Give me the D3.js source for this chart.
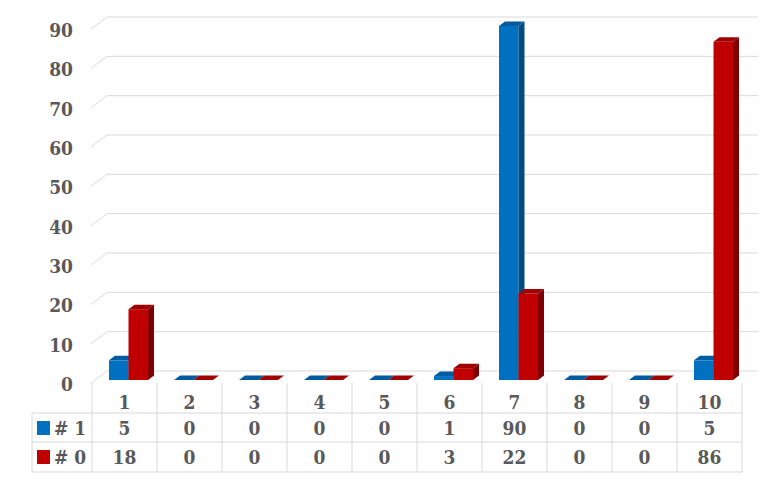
<!DOCTYPE html>
<html><head><meta charset="utf-8">
<script src="https://cdnjs.cloudflare.com/ajax/libs/d3/7.8.5/d3.min.js"></script>
<style>
html,body{margin:0;padding:0;background:#fff;}
svg{display:block;}
text{font-family:"DejaVu Serif Condensed","DejaVu Serif",serif;font-weight:bold;font-stretch:condensed;fill:#595959;}
</style></head>
<body>
<svg id="c" width="768" height="480"></svg>
<script>
const categories = ["1","2","3","4","5","6","7","8","9","10"];
const seriesNames = ["# 1","# 0"];
const series1 = [5,0,0,0,0,1,90,0,0,5];
const series0 = [18,0,0,0,0,3,22,0,0,86];
const yTicks = [0,10,20,30,40,50,60,70,80,90];
const seriesColors = [
  {front:"#0070C0", top:"#005C9E", side:"#004B82"},
  {front:"#C00000", top:"#A00000", side:"#7E0000"}
];
const seriesValues = [series1, series0];

const svg = d3.select("#c");
const frontY0 = 383, wallDX = 16, wallDY = 12;
const tableLeft = 32, plotLeft = 92, plotRight = 742;
const fs = 19;
const x = d3.scaleBand().domain(categories).range([plotLeft, plotRight]).paddingInner(0).paddingOuter(0);
const h = d3.scaleLinear().domain([0, 90]).range([0, 354]);
const inner = d3.scaleBand().domain([0,1]).range([0, 39]);

// gridlines
const grid = svg.append("g");
yTicks.forEach(t => {
  const yf = frontY0 - h(t), yb = yf - wallDY;
  grid.append("line").attr("x1", plotLeft - 1).attr("y1", yf).attr("x2", plotLeft - 1 + wallDX).attr("y2", yb)
    .attr("stroke", "#D9D9D9").attr("stroke-width", 1);
  grid.append("line").attr("x1", plotLeft - 1 + wallDX).attr("y1", yb).attr("x2", plotRight + wallDX).attr("y2", yb)
    .attr("stroke", "#D9D9D9").attr("stroke-width", 1);
  svg.append("text").attr("x", 73).attr("y", yf + 1).attr("text-anchor", "end")
    .attr("dy", "0.36em").attr("font-size", fs).text(t);
});

// bars
const barBase = 380, bdx = 6, bdy = 4.5, shiftX = 4;
const bars = svg.append("g");
seriesValues.forEach((vals, si) => {
  const col = seriesColors[si];
  vals.forEach((v, ci) => {
    const bw = inner.bandwidth();
    const x0 = x(categories[ci]) + (x.bandwidth() - 39) / 2 + shiftX + inner(si);
    const yt = barBase - h(v);
    const g = bars.append("g");
    if (v > 0) {
      g.append("rect").attr("x", x0).attr("y", yt).attr("width", bw).attr("height", h(v)).attr("fill", col.front);
      g.append("path").attr("d", `M${x0+bw},${yt}L${x0+bw+bdx},${yt-bdy}L${x0+bw+bdx},${barBase-bdy}L${x0+bw},${barBase}Z`).attr("fill", col.side);
    }
    g.append("path").attr("d", `M${x0},${yt}L${x0+bdx},${yt-bdy}L${x0+bw+bdx},${yt-bdy}L${x0+bw},${yt}Z`).attr("fill", col.top);
  });
});

// data table
const table = svg.append("g");
const rowY = [413, 442, 472];
const lc = "#D9D9D9";
rowY.forEach(y => table.append("line").attr("x1", tableLeft).attr("x2", plotRight).attr("y1", y).attr("y2", y).attr("stroke", lc));
table.append("line").attr("x1", tableLeft).attr("x2", tableLeft).attr("y1", 413).attr("y2", 472).attr("stroke", lc);
categories.forEach((c, i) => {
  const xl = x(c);
  table.append("line").attr("x1", xl).attr("x2", xl).attr("y1", frontY0).attr("y2", 472).attr("stroke", lc);
  const cx = xl + x.bandwidth() / 2;
  table.append("text").attr("x", cx).attr("y", 402).attr("dy", "0.36em").attr("text-anchor", "middle").attr("font-size", fs).text(c);
  seriesValues.forEach((vals, si) => {
    table.append("text").attr("x", cx).attr("y", si === 0 ? 428.5 : 457.5).attr("dy", "0.36em")
      .attr("text-anchor", "middle").attr("font-size", fs).text(vals[i]);
  });
});
table.append("line").attr("x1", plotRight).attr("x2", plotRight).attr("y1", frontY0).attr("y2", 472).attr("stroke", lc);
seriesNames.forEach((n, si) => {
  const cy = si === 0 ? 428 : 457;
  table.append("rect").attr("x", 37).attr("y", cy - 7).attr("width", 13).attr("height", 14).attr("fill", seriesColors[si].front);
  table.append("text").attr("x", 54).attr("y", cy + 0.5).attr("dy", "0.36em").attr("font-size", fs).text(n);
});
</script>
</body></html>
